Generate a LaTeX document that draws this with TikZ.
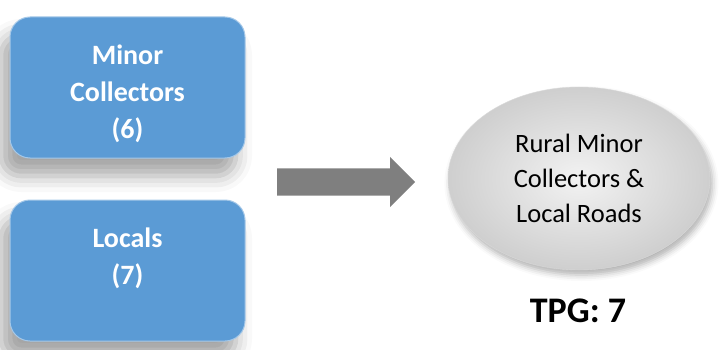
\documentclass[tikz,border=0pt]{standalone}
\usepackage{fontspec}
\setmainfont{Carlito}
\usetikzlibrary{shapes.geometric,shapes.arrows,shadows.blur}
\definecolor{roadblue}{HTML}{5B9BD5}
\definecolor{flowgray}{HTML}{7F7F7F}
\tikzset{
 roadbox/.style={draw=roadblue!55!white, line width=1pt, fill=roadblue, rounded corners=20pt,
   minimum width=235pt, minimum height=141pt,
   blur shadow={shadow xshift=-9pt, shadow yshift=-18pt, shadow blur radius=16pt, shadow opacity=35}},
 roadtext/.style={text=white, align=center, font=\bfseries\fontsize{28}{37}\selectfont},
}
\begin{document}
\begin{tikzpicture}[x=1pt,y=-1pt]
\useasboundingbox (0,0) rectangle (719,350);
\foreach \nm/\cy/\dy/\txt in {minor/87.5/-6/{Minor\\Collectors\\(6)}, locals/270.5/12/{Locals\\(7)}} {
 \node[roadbox] (\nm) at (127.5,\cy) {};
 \node[roadtext, yshift=\dy pt] (\nm-text) at (\nm.center) {\txt};
}
% block arrow
\node[single arrow, fill=flowgray, minimum height=138pt, minimum width=50pt,
  single arrow head extend=11.5pt, inner xsep=0pt, inner ysep=13.5pt, anchor=tail] (flow) at (277,182) {};
\node[ellipse, draw=gray!30, inner color=gray!10, outer color=gray!38,
  minimum width=262pt, minimum height=183pt, align=center, text=black,
  font=\fontsize{26.5}{35}\selectfont, blur shadow={shadow yshift=-5pt, shadow blur radius=6pt, shadow opacity=30}]
  (rural) at (579,178.5) {Rural Minor\\Collectors \&\\Local Roads};
\node[font=\bfseries\fontsize{36}{40}\selectfont] (tpg) at (578,311) {TPG: 7};
\end{tikzpicture}
\end{document}
